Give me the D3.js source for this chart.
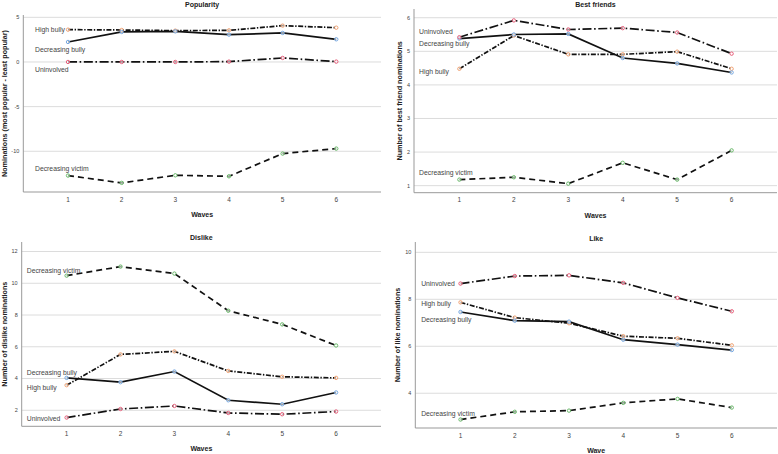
<!DOCTYPE html>
<html>
<head>
<meta charset="utf-8">
<script src="https://cdn.jsdelivr.net/npm/d3@7"></script>
<style>
  body { margin: 0; background: #fff; }
  svg { display: block; font-family: "Liberation Sans", Arial, sans-serif; }
</style>
</head>
<body>
<div id="chart"><svg></svg></div>
<script>
const waves = [1, 2, 3, 4, 5, 6];
const groups = ["High bully", "Decreasing bully", "Uninvolved", "Decreasing victim"];

// Popularity
const popHighBully = [3.62, 3.58, 3.51, 3.54, 4.07, 3.84];
const popDecBully = [2.24, 3.36, 3.43, 3.06, 3.25, 2.54];
const popUninvolved = [0.0, 0.0, 0.0, 0.04, 0.45, 0.04];
const popDecVictim = [-12.72, -13.54, -12.69, -12.8, -10.26, -9.7];
const popTicks = [-10, -5, 0, 5];

// Best friends
const bfHighBully = [4.48, 5.47, 4.91, 4.91, 4.99, 4.48];
const bfDecBully = [5.38, 5.5, 5.52, 4.8, 4.64, 4.37];
const bfUninvolved = [5.42, 5.92, 5.65, 5.69, 5.56, 4.93];
const bfDecVictim = [1.18, 1.25, 1.06, 1.68, 1.18, 2.05];
const bfTicks = [1, 2, 3, 4, 5, 6];

// Dislike
const disHighBully = [3.58, 5.52, 5.71, 4.48, 4.11, 4.04];
const disDecBully = [4.04, 3.77, 4.44, 2.63, 2.38, 3.12];
const disUninvolved = [1.54, 2.08, 2.27, 1.83, 1.75, 1.92];
const disDecVictim = [10.48, 11.05, 10.61, 8.27, 7.41, 6.08];
const disTicks = [2, 4, 6, 8, 10, 12];

// Like
const likeHighBully = [7.87, 7.22, 6.98, 6.43, 6.34, 6.04];
const likeDecBully = [7.46, 7.09, 7.05, 6.28, 6.07, 5.84];
const likeUninvolved = [8.67, 8.99, 9.02, 8.7, 8.06, 7.49];
const likeDecVictim = [2.88, 3.21, 3.26, 3.59, 3.76, 3.39];
const likeTicks = [4, 6, 8, 10];

// where the group names sit, in data units (order as in groups)
const popLabelY = [3.61, 1.34, -0.82, -11.97];
const bfLabelY = [4.41, 5.22, 5.6, 1.38];
const disLabelY = [3.43, 4.38, 1.45, 10.82];
const likeLabelY = [7.83, 7.15, 8.66, 3.13];

const styles = {
  "High bully": { dash: "5,1.6,1.4,1.6", color: "#ee9a66" },
  "Decreasing bully": { dash: null, color: "#6a9fdc" },
  "Uninvolved": { dash: "9,2.6,1.6,2.6", color: "#e3506e" },
  "Decreasing victim": { dash: "6,4", color: "#5fb35f" }
};

const panels = [
  { title: "Popularity", xTitle: "Waves", yTitle: "Nominations (most popular - least popular)",
    series: [popHighBully, popDecBully, popUninvolved, popDecVictim], ticks: popTicks, labelY: popLabelY, labelX: 0.385,
    left: 23.3, right: 381, top: 15, bottom: 192, yDomain: [-14.56, 5.26], titleY: 6.5, xTitleY: 216.5, yTitleX: 6.5 },
  { title: "Best friends", xTitle: "Waves", yTitle: "Number of best friend nominations",
    series: [bfHighBully, bfDecBully, bfUninvolved, bfDecVictim], ticks: bfTicks, labelY: bfLabelY, labelX: 0.26,
    left: 414, right: 777, top: 9, bottom: 192.7, yDomain: [0.79, 6.26], titleY: 6.5, xTitleY: 217.5, yTitleX: 401.5 },
  { title: "Dislike", xTitle: "Waves", yTitle: "Number of dislike nominations",
    series: [disHighBully, disDecBully, disUninvolved, disDecVictim], ticks: disTicks, labelY: disLabelY, labelX: 0.26,
    left: 21.7, right: 381, top: 242, bottom: 426.3, yDomain: [0.99, 12.6], titleY: 240, xTitleY: 451, yTitleX: 6.5 },
  { title: "Like", xTitle: "Wave", yTitle: "Number of like nominations",
    series: [likeHighBully, likeDecBully, likeUninvolved, likeDecVictim], ticks: likeTicks, labelY: likeLabelY, labelX: 0.275,
    left: 415.3, right: 777, top: 242, bottom: 428, yDomain: [2.52, 10.44], titleY: 240.5, xTitleY: 452.5, yTitleX: 399.5 }
];

const svg = d3.select("#chart > svg").attr("width", 778).attr("height", 454);

panels.forEach(p => {
  const g = svg.append("g");
  // waves 1 and 6 sit an eighth of the plot width in from each edge
  const inset = (p.right - p.left) * 0.125;
  const x = d3.scaleLinear().domain([1, 6]).range([p.left + inset, p.right - inset]);
  const y = d3.scaleLinear().domain(p.yDomain).range([p.bottom, p.top]);

  // grid
  g.selectAll(".grid").data(p.ticks).join("line")
    .attr("x1", p.left).attr("x2", p.right)
    .attr("y1", d => y(d)).attr("y2", d => y(d))
    .attr("stroke", "#dcdcdc").attr("stroke-width", 1);

  // axes lines
  g.append("line").attr("x1", p.left).attr("x2", p.left).attr("y1", p.top).attr("y2", p.bottom)
    .attr("stroke", "#999").attr("stroke-width", 1);
  g.append("line").attr("x1", p.left).attr("x2", p.right).attr("y1", p.bottom).attr("y2", p.bottom)
    .attr("stroke", "#999").attr("stroke-width", 1);

  // y tick labels
  g.selectAll(".yt").data(p.ticks).join("text")
    .attr("x", p.left - 4).attr("y", d => y(d)).attr("dy", "0.35em")
    .attr("text-anchor", "end").attr("font-size", 5.5).attr("fill", "#444")
    .text(d => d);

  // x tick labels
  g.selectAll(".xt").data(waves).join("text")
    .attr("x", d => x(d)).attr("y", p.bottom + 7.5).attr("dy", "0.35em")
    .attr("text-anchor", "middle").attr("font-size", 6.5).attr("fill", "#444")
    .text(d => d);

  // titles
  g.append("text").attr("x", (p.left + p.right) / 2).attr("y", p.titleY)
    .attr("text-anchor", "middle").attr("font-size", 7).attr("font-weight", "bold").attr("fill", "#222")
    .text(p.title);
  g.append("text").attr("x", (p.left + p.right) / 2).attr("y", p.xTitleY)
    .attr("text-anchor", "middle").attr("font-size", 7).attr("font-weight", "bold").attr("fill", "#222")
    .text(p.xTitle);
  g.append("text")
    .attr("transform", `translate(${p.yTitleX},${(p.top + p.bottom) / 2}) rotate(-90)`)
    .attr("text-anchor", "middle").attr("font-size", 7.2).attr("font-weight", "bold").attr("fill", "#222")
    .text(p.yTitle);

  const line = d3.line().x((d, i) => x(waves[i])).y(d => y(d));

  p.series.forEach((vals, k) => {
    const st = styles[groups[k]];
    g.append("path").datum(vals)
      .attr("fill", "none").attr("stroke", "#111").attr("stroke-width", 1.7)
      .attr("stroke-dasharray", st.dash)
      .attr("d", line);
  });
  p.series.forEach((vals, k) => {
    const st = styles[groups[k]];
    g.selectAll(null).data(vals).join("circle")
      .attr("cx", (d, i) => x(waves[i])).attr("cy", d => y(d)).attr("r", 1.7)
      .attr("fill", "#fff").attr("fill-opacity", 0.6)
      .attr("stroke", st.color).attr("stroke-width", 0.9);
  });

  // group labels
  groups.forEach((name, k) => {
    g.append("text").attr("x", x(p.labelX)).attr("y", y(p.labelY[k])).attr("dy", "0.35em")
      .attr("font-size", 6.8).attr("fill", "#444").text(name);
  });
});
</script>
</body>
</html>
